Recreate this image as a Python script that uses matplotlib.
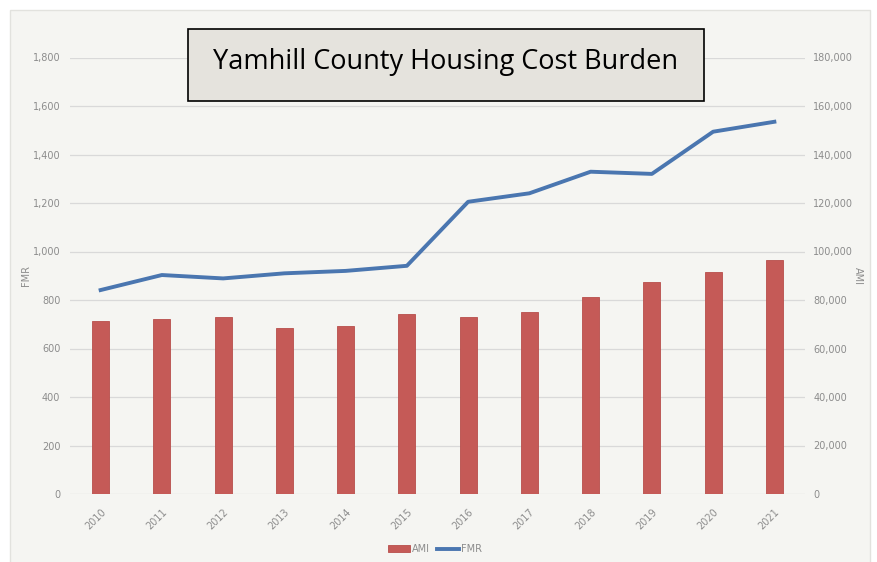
import matplotlib.pyplot as plt
from matplotlib.patches import Rectangle

years = ['2010', '2011', '2012', '2013', '2014', '2015',
         '2016', '2017', '2018', '2019', '2020', '2021']
ami = [71500, 72200, 73000, 68300, 69400, 74100,
       73100, 74900, 81400, 87400, 91700, 96500]
fmr = [841, 903, 889, 910, 920, 941, 1205, 1240, 1329, 1320, 1494, 1535]

grey = '#8c8c8c'
fig = plt.figure(figsize=(8.77, 5.62), dpi=100)
fig.patch.set_facecolor('white')

# light panel behind the chart
fig.patches.append(Rectangle((10 / 877, -0.01), 860 / 877, 1 - 10 / 562 + 0.01,
                             transform=fig.transFigure, facecolor='#f5f5f2',
                             edgecolor='#e2e2de', linewidth=1, zorder=-5))

ax = fig.add_axes([70 / 877, 1 - 494 / 562, 735 / 877, (494 - 57.5) / 562])
ax.set_facecolor('none')
ax2 = ax.twinx()
ax2.patch.set_visible(False)

x = range(len(years))
ax2.bar(x, ami, width=0.28, color='#c55a57', edgecolor='#b84e4b', linewidth=0.6,
        label='AMI', zorder=2)
ax.plot(x, fmr, color='#4a76b0', linewidth=2.8, label='FMR', zorder=5)

ax.set_zorder(ax2.get_zorder() + 1)
ax.patch.set_visible(False)

ax.set_xlim(-0.5, 11.5)
ax.set_ylim(0, 1800)
ax2.set_ylim(0, 180000)
ax.set_yticks(range(0, 1801, 200))
ax2.set_yticks(range(0, 180001, 20000))
ax.set_yticklabels([f'{v:,}' for v in range(0, 1801, 200)])
ax2.set_yticklabels([f'{v:,}' for v in range(0, 180001, 20000)])
ax.set_xticks(list(x))
ax.set_xticklabels(years, rotation=45, ha='right', rotation_mode='anchor')

for a in (ax, ax2):
    for s in a.spines.values():
        s.set_visible(False)
    a.tick_params(length=0, colors=grey, labelsize=7)
ax.tick_params(axis='y', pad=7)
ax2.tick_params(axis='y', pad=6)
ax.tick_params(axis='x', pad=9)
ax2.grid(axis='y', color='#d9d9d9', linewidth=0.9, zorder=0)
ax2.set_axisbelow(True)

ax.set_ylabel('FMR', color=grey, fontsize=7, labelpad=1)
ax2.set_ylabel('AMI', color=grey, fontsize=7, labelpad=0, rotation=270, va='bottom')

h1, l1 = ax2.get_legend_handles_labels()
h2, l2 = ax.get_legend_handles_labels()
fig.legend(h1 + h2, l1 + l2, loc='center', bbox_to_anchor=(435 / 877, 1 - 549 / 562),
           ncol=2, frameon=False, fontsize=7, labelcolor=grey,
           handlelength=2.2, handleheight=0.6, columnspacing=0.8, handletextpad=0.2)

# title box
fig.patches.append(Rectangle((188 / 877, 1 - 101 / 562), 516 / 877, 72 / 562,
                             transform=fig.transFigure, facecolor='#e5e3dd',
                             edgecolor='black', linewidth=1.2, zorder=10))
fig.text(446 / 877, 1 - 62 / 562, 'Yamhill County Housing Cost Burden',
         ha='center', va='center', fontsize=19.5, family='Open Sans', zorder=11)

plt.savefig('out.png', dpi=100)
